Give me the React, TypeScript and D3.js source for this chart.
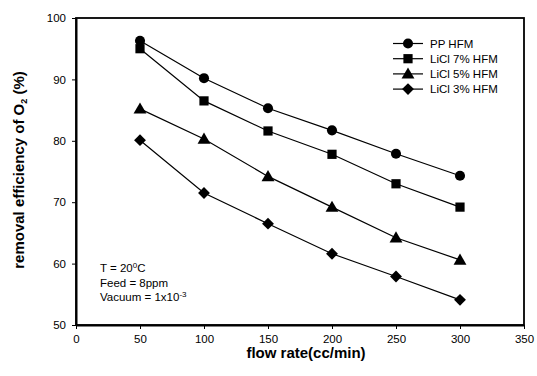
import React, { useEffect, useRef } from "react";
import * as d3 from "d3";

const flowRates = [50, 100, 150, 200, 250, 300];
const ppHFM = [96.3, 90.2, 85.3, 81.7, 77.9, 74.3];
const licl7 = [95.0, 86.5, 81.6, 77.8, 73.0, 69.2];
const licl5 = [85.2, 80.3, 74.2, 69.2, 64.2, 60.6];
const licl3 = [80.1, 71.5, 66.5, 61.6, 57.9, 54.1];
const seriesNames = ["PP HFM", "LiCl 7% HFM", "LiCl 5% HFM", "LiCl 3% HFM"];
const seriesSymbols = ["circle", "square", "triangle", "diamond"];
const xTicks = [0, 50, 100, 150, 200, 250, 300, 350];
const yTicks = [50, 60, 70, 80, 90, 100];

const W = 537;
const H = 376;
const M = { left: 76, right: 13, top: 18, bottom: 51 };
const FONT = "'Liberation Sans', Arial, sans-serif";

export default function App() {
  const ref = useRef<SVGSVGElement | null>(null);

  useEffect(() => {
    const svg = d3.select(ref.current);
    svg.selectAll("*").remove();
    const x = d3.scaleLinear().domain([0, 350]).range([M.left, W - M.right]);
    const y = d3.scaleLinear().domain([50, 100]).range([H - M.bottom, M.top]);

    const symType: Record<string, d3.SymbolType> = {
      circle: d3.symbolCircle,
      square: d3.symbolSquare,
      triangle: d3.symbolTriangle,
      diamond: d3.symbolSquare,
    };
    const symSize: Record<string, number> = { circle: 80, square: 85, triangle: 72, diamond: 70 };
    const symTransform = (sym: string, cx: number, cy: number) =>
      sym === "diamond"
        ? `translate(${cx},${cy}) rotate(45)`
        : `translate(${cx},${cy + (sym === "triangle" ? 1 : 0)})`;

    // frame
    svg.append("rect")
      .attr("x", x(0)).attr("y", y(100))
      .attr("width", x(350) - x(0)).attr("height", y(50) - y(100))
      .attr("fill", "none").attr("stroke", "#000").attr("stroke-width", 1.8);

    // x axis
    const xa = svg.append("g").attr("transform", `translate(0,${y(50)})`)
      .call(d3.axisBottom(x).tickValues(xTicks).tickSize(4).tickSizeOuter(0).tickPadding(6));
    xa.select(".domain").attr("stroke-width", 2);
    xa.selectAll("text").attr("font-family", FONT).attr("font-size", 11.5).attr("fill", "#000");

    const ya = svg.append("g").attr("transform", `translate(${x(0)},0)`)
      .call(d3.axisLeft(y).tickValues(yTicks).tickSize(4).tickSizeOuter(0).tickPadding(6));
    ya.select(".domain").attr("stroke-width", 2);
    ya.selectAll("text").attr("font-family", FONT).attr("font-size", 11.5).attr("fill", "#000");

    const allSeries = [ppHFM, licl7, licl5, licl3];
    const line = d3.line<number>().x((_, i) => x(flowRates[i])).y((d) => y(d));

    allSeries.forEach((vals, si) => {
      svg.append("path").attr("d", line(vals)!).attr("fill", "none")
        .attr("stroke", "#000").attr("stroke-width", 1.2);
      const sym = seriesSymbols[si];
      svg.append("g").selectAll("path").data(vals).join("path")
        .attr("transform", (d, i) => symTransform(sym, x(flowRates[i]), y(d)))
        .attr("d", d3.symbol().type(symType[sym]).size(symSize[sym])()!)
        .attr("fill", "#000");
    });

    // legend
    const lg = svg.append("g");
    seriesNames.forEach((name, i) => {
      const ly = 43.5 + i * 15.2;
      lg.append("line").attr("x1", 393).attr("x2", 423).attr("y1", ly).attr("y2", ly)
        .attr("stroke", "#000").attr("stroke-width", 1.2);
      const sym = seriesSymbols[i];
      lg.append("path")
        .attr("transform", symTransform(sym, 408, ly))
        .attr("d", d3.symbol().type(symType[sym]).size(symSize[sym])()!)
        .attr("fill", "#000");
      lg.append("text").attr("x", 430).attr("y", ly + 4).text(name)
        .attr("font-family", FONT).attr("font-size", 11.5).attr("fill", "#000");
    });

    // annotation
    const ann = svg.append("text").attr("font-family", FONT).attr("font-size", 11.5).attr("fill", "#000");
    const t1 = ann.append("tspan").attr("x", 100).attr("y", 272);
    t1.append("tspan").text("T = 20");
    t1.append("tspan").attr("dy", -4).attr("font-size", 8).text("0");
    t1.append("tspan").attr("dy", 4).text("C");
    ann.append("tspan").attr("x", 100).attr("y", 286.5).text("Feed = 8ppm");
    const t3 = ann.append("tspan").attr("x", 100).attr("y", 301);
    t3.append("tspan").text("Vacuum = 1x10");
    t3.append("tspan").attr("dy", -4).attr("font-size", 8).text("-3");

    // axis titles
    svg.append("text").attr("x", (x(0) + x(350)) / 2 + 6).attr("y", 358)
      .attr("text-anchor", "middle").attr("font-family", FONT).attr("font-size", 15)
      .attr("font-weight", "bold").text("flow rate(cc/min)");

    const yt = svg.append("text")
      .attr("transform", `translate(23.5,170) rotate(-90)`)
      .attr("text-anchor", "middle").attr("font-family", FONT).attr("font-size", 15)
      .attr("font-weight", "bold");
    yt.append("tspan").text("removal efficiency of O");
    yt.append("tspan").attr("dy", 3).attr("font-size", 9).text("2");
    yt.append("tspan").attr("dy", -3).text(" (%)");
  }, []);

  return (
    <svg ref={ref} width={W} height={H}
      style={{ position: "absolute", left: 0, top: 0, background: "#fff" }} />
  );
}
